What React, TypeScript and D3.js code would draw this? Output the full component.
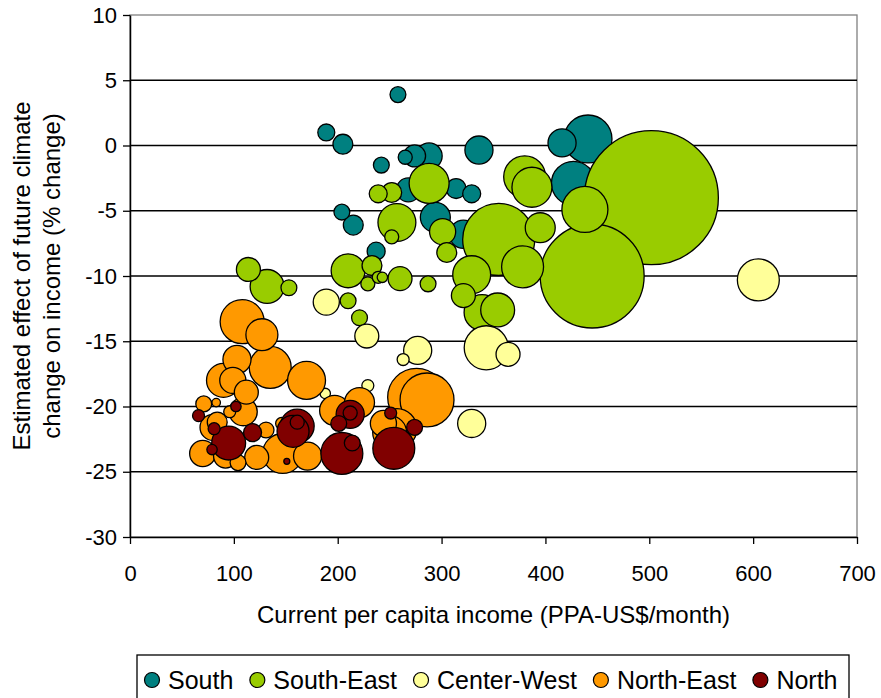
import React, { useRef, useEffect } from "react";
import * as d3 from "d3";

// each bubble: [income (PPA-US$/month), effect (% change), size]
type Bubble = [number, number, number];

const south: Bubble[] = [
  [258, 3.9, 14], [189, 1.0, 16], [205, 0.1, 22], [242, -1.5, 14],
  [265, -0.9, 11], [274, -0.8, 27], [288, -0.8, 38], [336, -0.35, 44],
  [441, 0.5, 128], [416, 0.2, 44], [427, -2.9, 108], [314, -3.3, 22],
  [329, -3.7, 18], [294, -5.5, 50], [321, -6.8, 44], [215, -6.1, 22],
  [204, -5.1, 14], [237, -8.1, 18], [268, -3.4, 32],
];

const southEast: Bubble[] = [
  [502, -4.0, 1000], [445, -10.0, 602], [438, -4.9, 118], [355, -7.2, 289],
  [380, -2.4, 98], [387, -3.2, 89], [395, -6.3, 50], [378, -9.3, 98],
  [329, -9.9, 80], [354, -12.6, 64], [339, -12.8, 72], [321, -11.5, 32],
  [288, -2.9, 89], [257, -5.9, 80], [239, -3.7, 18], [252, -3.6, 22],
  [301, -6.6, 38], [305, -8.2, 22], [260, -10.2, 32], [287, -10.6, 14],
  [243, -10.1, 6], [252, -7.0, 11], [210, -9.6, 64], [233, -9.2, 22],
  [239, -10.1, 8], [229, -10.6, 11], [210, -11.9, 14], [221, -13.2, 14],
  [114, -9.5, 32], [132, -10.8, 64], [153, -10.9, 14],
];

const centerWest: Bubble[] = [
  [605, -10.3, 98], [343, -15.5, 108], [364, -16.0, 32], [277, -15.7, 44],
  [263, -16.4, 8], [329, -21.3, 44], [189, -12.0, 38], [228, -14.6, 32],
  [229, -18.4, 8], [188, -19.0, 6],
];

const northEast: Bubble[] = [
  [108, -13.5, 108], [127, -14.5, 57], [135, -17.0, 98], [170, -18.0, 80],
  [103, -16.4, 44], [90, -18.0, 64], [99, -18.0, 38], [112, -18.9, 32],
  [71, -19.8, 14], [83, -19.7, 4], [109, -20.4, 44], [84, -21.2, 22],
  [80, -21.6, 38], [70, -23.6, 38], [104, -24.3, 14], [122, -23.9, 32],
  [147, -23.6, 89], [171, -23.8, 44], [131, -21.8, 14], [146, -21.3, 8],
  [197, -20.3, 50], [221, -19.7, 50], [276, -19.3, 187], [286, -19.5, 162],
  [244, -21.3, 38], [250, -22.0, 64], [257, -21.7, 89], [96, -20.4, 8],
  [92, -23.8, 32],
];

const north: Bubble[] = [
  [204, -23.6, 98], [254, -23.2, 98], [212, -20.6, 44], [212, -20.5, 11],
  [214, -22.8, 14], [201, -21.3, 14], [251, -20.5, 8], [274, -21.6, 14],
  [161, -21.5, 64], [161, -21.2, 11], [157, -21.9, 57], [102, -20.0, 6],
  [95, -22.8, 64], [81, -21.7, 8], [66, -20.7, 8], [118, -22.0, 18],
  [79, -23.3, 6], [151, -24.2, 2],
];

const seriesNames = ["South", "South-East", "Center-West", "North-East", "North"];
const seriesColors = ["#008080", "#99CC00", "#FFFF99", "#FF9900", "#800000"];
const seriesData = [south, southEast, centerWest, northEast, north];

const xTicks = [0, 100, 200, 300, 400, 500, 600, 700];
const yTicks = [10, 5, 0, -5, -10, -15, -20, -25, -30];

const FONT = "'Liberation Sans', Arial, sans-serif";

export default function App() {
  const ref = useRef<SVGSVGElement | null>(null);

  useEffect(() => {
    const width = 881;
    const height = 698;
    const left = 130;
    const right = 857;
    const top = 15;
    const bottom = 537;

    d3.select(ref.current).selectAll("*").remove();

    const svg = d3
      .select(ref.current)
      .attr("width", width)
      .attr("height", height)
      .style("background", "#fff");

    const x = d3.scaleLinear().domain([0, 700]).range([left, right]);
    const y = d3.scaleLinear().domain([-30, 10]).range([bottom, top]);
    const r = d3.scaleSqrt().domain([0, 1000]).range([0, 67]);

    // plot area border (grey)
    svg
      .append("rect")
      .attr("x", left)
      .attr("y", top)
      .attr("width", right - left)
      .attr("height", bottom - top)
      .attr("fill", "none")
      .attr("stroke", "#808080")
      .attr("stroke-width", 1.3);

    // gridlines
    svg
      .append("g")
      .selectAll("line")
      .data(yTicks.filter((t) => t < 10 && t > -30))
      .join("line")
      .attr("x1", left)
      .attr("x2", right)
      .attr("y1", (d) => y(d))
      .attr("y2", (d) => y(d))
      .attr("stroke", "#000")
      .attr("stroke-width", 1.4);

    // bubbles, series order, bigger ones first inside a series
    seriesData.forEach((data, i) => {
      const sorted = [...data].sort((a, b) => b[2] - a[2]);
      svg
        .append("g")
        .selectAll("circle")
        .data(sorted)
        .join("circle")
        .attr("cx", (d) => x(d[0]))
        .attr("cy", (d) => y(d[1]))
        .attr("r", (d) => r(d[2]))
        .attr("fill", seriesColors[i])
        .attr("stroke", "#000")
        .attr("stroke-width", 1.3);
    });

    // axes
    const xAxis = d3
      .axisBottom(x)
      .tickValues(xTicks)
      .tickFormat((d) => String(d))
      .tickSizeInner(7)
      .tickSizeOuter(0)
      .tickPadding(21);
    const yAxis = d3
      .axisLeft(y)
      .tickValues(yTicks)
      .tickFormat((d) => String(d))
      .tickSizeInner(7)
      .tickSizeOuter(0)
      .tickPadding(6);

    const gx = svg
      .append("g")
      .attr("transform", `translate(0,${bottom})`)
      .call(xAxis);
    const gy = svg.append("g").attr("transform", `translate(${left},0)`).call(yAxis);

    [gx, gy].forEach((g) => {
      g.selectAll(".domain").attr("stroke", "#000").attr("stroke-width", 1.5);
      g.selectAll(".tick line").attr("stroke", "#000").attr("stroke-width", 1.3);
      g.selectAll("text")
        .attr("fill", "#000")
        .style("font-family", FONT)
        .style("font-size", "22px");
    });

    // axis titles
    svg
      .append("text")
      .attr("x", (left + right) / 2)
      .attr("y", 623)
      .attr("text-anchor", "middle")
      .style("font-family", FONT)
      .style("font-size", "24px")
      .text("Current per capita income (PPA-US$/month)");

    const yTitle = svg
      .append("text")
      .attr("transform", `translate(0,${(top + bottom) / 2}) rotate(-90)`)
      .attr("text-anchor", "middle")
      .style("font-family", FONT)
      .style("font-size", "24px");
    yTitle.append("tspan").attr("x", 0).attr("y", 30).text("Estimated effect of future climate");
    yTitle.append("tspan").attr("x", 0).attr("y", 60).text("change on income (% change)");

    // legend
    const legend = svg.append("g");
    legend
      .append("rect")
      .attr("x", 137)
      .attr("y", 655)
      .attr("width", 712)
      .attr("height", 60)
      .attr("fill", "#fff")
      .attr("stroke", "#000")
      .attr("stroke-width", 1.3);

    let cx = 152;
    seriesNames.forEach((name, i) => {
      legend
        .append("circle")
        .attr("cx", cx)
        .attr("cy", 680)
        .attr("r", 7.5)
        .attr("fill", seriesColors[i])
        .attr("stroke", "#000")
        .attr("stroke-width", 1.2);
      const t = legend
        .append("text")
        .attr("x", cx + 16)
        .attr("y", 689)
        .style("font-family", FONT)
        .style("font-size", "25px")
        .text(name);
      const w = (t.node() as SVGTextElement).getComputedTextLength();
      cx = cx + 16 + w + 24;
    });
  }, []);

  return <svg ref={ref} style={{ position: "absolute", left: 0, top: 0 }} />;
}
